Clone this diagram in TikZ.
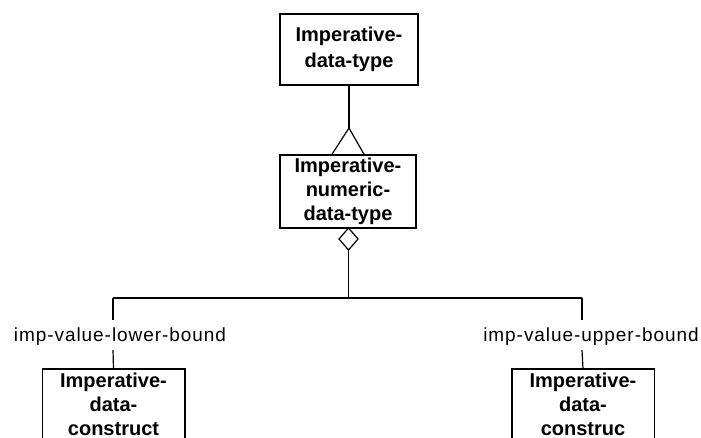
\documentclass[tikz,border=0pt]{standalone}
\usepackage{fontspec}
\setmainfont{Liberation Sans}
\newfontfamily\labelfont[LetterSpace=5]{Liberation Sans}
\begin{document}
\begin{tikzpicture}[x=1pt,y=-1pt,
  line width=1.2pt,
  classbox/.style={draw, line width=1.5pt, align=center, inner sep=0pt,
    font=\bfseries\fontsize{20}{24}\selectfont},
  rolelabel/.style={inner sep=0pt, font=\labelfont\fontsize{19}{21}\selectfont}]
\useasboundingbox (0,0) rectangle (701,438);
\clip (0,0) rectangle (701,438);

% supertype and subtype
\node[classbox, minimum width=138pt, minimum height=71pt,
  font=\bfseries\fontsize{20}{26}\selectfont] (idt) at (349,49.5)
  {Imperative-\\data-type};
\node[classbox, minimum width=136pt, minimum height=73pt] (indt) at (348,191.5)
  {Imperative-\\numeric-\\data-type};

% generalisation triangle
\coordinate (apex) at (349,128);
\draw (idt.south) -- (apex);
\draw ([xshift=-16pt]indt.north) -- (apex) -- ([xshift=16pt]indt.north);

% aggregation diamond
\coordinate (dtop) at (348.5,228);
\coordinate (dbot) at (348.5,250);
\draw (dtop) -- ++(9.5,11) -- (dbot) -- ++(-9.5,-11) -- cycle;

% role labels
\node[rolelabel] (lower) at (120,337) {imp-value-lower-bound};
\node[rolelabel] (upper) at (591,337) {imp-value-upper-bound};

% component classes, cut off at the lower edge
\node[classbox, draw=none, anchor=north, text width=141pt, inner ysep=3pt] (ldc) at (113.5,369)
  {Imperative-\\data-\\construct};
\node[classbox, draw=none, anchor=north, text width=141pt, inner ysep=3pt] (udc) at (583,369)
  {Imperative-\\data-\\construc};
\draw[line width=1.5pt] ([yshift=-60pt]ldc.south west) -- (ldc.north west) -- (ldc.north east) -- ([yshift=-60pt]ldc.south east);
\draw[line width=1.5pt] ([yshift=-60pt]udc.south west) -- (udc.north west) -- (udc.north east) -- ([yshift=-60pt]udc.south east);

% aggregation tree
\coordinate (jn) at (348.5,298);
\coordinate (jl) at (113,298);
\coordinate (jr) at (582,298);
\draw (dbot) -- (jn);
\draw (jl) -- (jr);
\draw (jl) -- (113,320);
\draw (jr) -- (582,320);
\draw (113,350) -- (ldc.north);
\draw (582,350) -- (udc.north);
\end{tikzpicture}
\end{document}
